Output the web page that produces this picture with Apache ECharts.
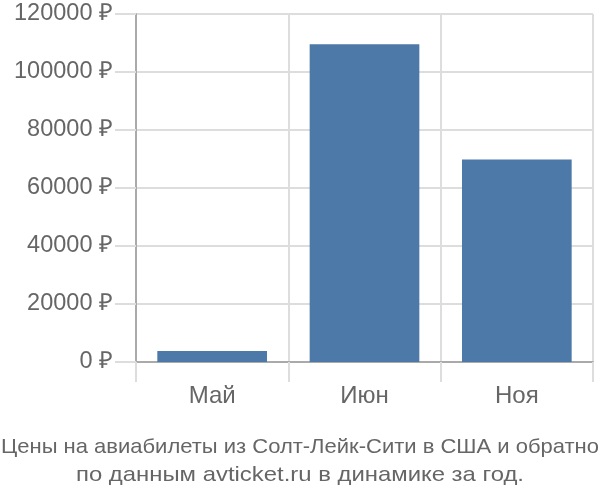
<!DOCTYPE html>
<html><head><meta charset="utf-8">
<script src="https://cdn.jsdelivr.net/npm/echarts@6/dist/echarts.min.js"></script>
<style>html,body{margin:0;padding:0;background:#fff}#c{width:600px;height:500px}</style>
</head><body><div id="c"></div>
<script>
const categories = ['Май', 'Июн', 'Ноя'];
const prices = [3800, 109600, 69800];
const yTicks = [0, 20000, 40000, 60000, 80000, 100000, 120000];
const titleLines = ['Цены на авиабилеты из Солт-Лейк-Сити в США и обратно', 'по данным avticket.ru в динамике за год.'];
const titleWidths = [598, 448];

const titleFont = '21px "Liberation Sans"';
const ctx = document.createElement('canvas').getContext('2d');
ctx.font = titleFont;

const chart = echarts.init(document.getElementById('c'), null, {renderer: 'canvas'});
chart.setOption({
  animation: false,
  graphic: titleLines.map((t, i) => ({
    type: 'text',
    x: 300, y: 447 + i * 28,
    scaleX: titleWidths[i] / ctx.measureText(t).width,
    style: {text: t, font: titleFont, fill: '#666', align: 'center', verticalAlign: 'middle'}
  })),
  grid: {left: 136, right: 7, top: 14, bottom: 138, containLabel: false},
  xAxis: {
    type: 'category',
    data: categories,
    axisLine: {show: true, lineStyle: {color: '#aaa', width: 2}},
    axisTick: {show: true, length: 20, lineStyle: {color: '#ddd', width: 2}},
    splitLine: {show: true, lineStyle: {color: '#ddd', width: 2}},
    axisLabel: {margin: 22, fontSize: 24, color: '#666', fontFamily: 'Liberation Sans'}
  },
  yAxis: {
    type: 'value',
    min: yTicks[0],
    max: yTicks[yTicks.length - 1],
    interval: 20000,
    axisLine: {show: true, lineStyle: {color: '#aaa', width: 2}},
    axisTick: {show: true, length: 21, lineStyle: {color: '#ddd', width: 2}},
    splitLine: {show: true, lineStyle: {color: '#ddd', width: 2}},
    axisLabel: {margin: 23, fontSize: 23.5, color: '#666', fontFamily: 'Liberation Sans', formatter: v => v + ' ₽'}
  },
  series: [{
    type: 'bar',
    data: prices,
    barCategoryGap: '28%',
    itemStyle: {color: '#4c79a7'}
  }]
});
</script></body></html>
